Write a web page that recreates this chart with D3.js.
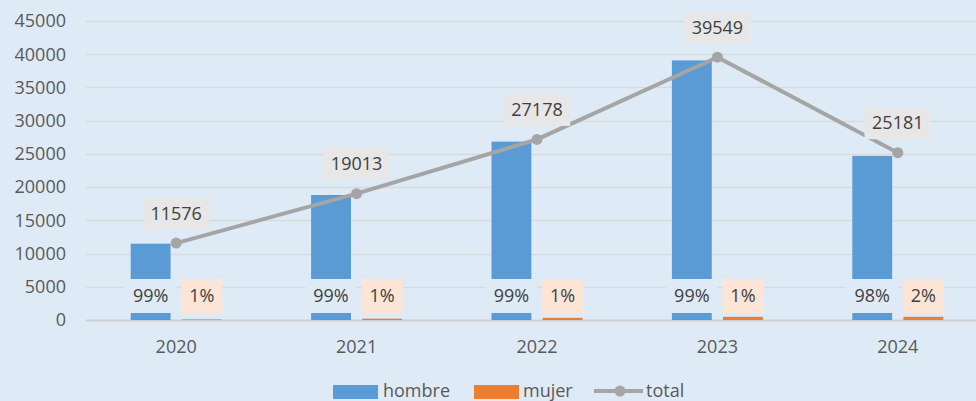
<!DOCTYPE html>
<html>
<head>
    <title>hombre / mujer / total</title>
    <script src="https://d3js.org/d3.v7.min.js"></script>
    <style>
        body { margin: 0; }
        svg { display: block; }
        text { font-family: "Open Sans", sans-serif; fill: #595959; }
        text.lbl { fill: #404040; }
    </style>
</head>
<body>
<svg width="976" height="401"></svg>
<script>
    const years = ["2020", "2021", "2022", "2023", "2024"];
    const hombre = [11486, 18813, 26848, 39069, 24701];
    const mujer = [90, 200, 330, 480, 480];
    const total = [11576, 19013, 27178, 39549, 25181];
    const yTicks = [0, 5000, 10000, 15000, 20000, 25000, 30000, 35000, 40000, 45000];

    const width = 976, height = 401;
    const fontSize = 18;

    const svg = d3.select("svg");

    svg.append("rect")
        .attr("width", width)
        .attr("height", height)
        .attr("fill", "#deebf7");

    const y = d3.scaleLinear().domain([0, 45000]).range([320, 21]);
    const x0 = d3.scaleBand().domain(years).range([86, 988]).padding(0);
    const bw = x0.bandwidth();
    const x1 = d3.scaleBand().domain(["hombre", "mujer"])
        .range([bw / 2 - 45.5, bw / 2 + 45.5])
        .paddingInner(0.22);

    // grid lines
    svg.append("g").selectAll("line")
        .data(yTicks)
        .enter().append("line")
        .attr("x1", 86)
        .attr("x2", width)
        .attr("y1", d => Math.round(y(d)) + 0.5)
        .attr("y2", d => Math.round(y(d)) + 0.5)
        .attr("stroke", d => d === 0 ? "#d0d0d0" : "#d9d9d9")
        .attr("stroke-width", d => d === 0 ? 2 : 1.3);

    // y axis labels
    svg.append("g").selectAll("text")
        .data(yTicks)
        .enter().append("text")
        .attr("x", 66)
        .attr("y", d => y(d))
        .attr("dy", "0.35em")
        .attr("text-anchor", "end")
        .style("font-size", fontSize + "px")
        .text(d => d);

    // x axis labels
    svg.append("g").selectAll("text")
        .data(years)
        .enter().append("text")
        .attr("x", d => x0(d) + bw / 2)
        .attr("y", 352.5)
        .attr("text-anchor", "middle")
        .style("font-size", fontSize + "px")
        .text(d => d);

    const rows = years.map((yr, i) => ({year: yr, hombre: hombre[i], mujer: mujer[i], total: total[i]}));
    const colors = {hombre: "#5b9bd5", mujer: "#ed7d31"};

    // bars
    const groups = svg.append("g").selectAll("g")
        .data(rows)
        .enter().append("g")
        .attr("transform", d => "translate(" + x0(d.year) + ",0)");

    groups.selectAll("rect")
        .data(d => ["hombre", "mujer"].map(k => ({key: k, value: d[k], total: d.total})))
        .enter().append("rect")
        .attr("x", d => x1(d.key))
        .attr("width", x1.bandwidth())
        .attr("y", d => y(d.value))
        .attr("height", d => y(0) - y(d.value))
        .attr("fill", d => colors[d.key]);

    // percentage labels with boxes
    const labelFill = {hombre: "#deebf7", mujer: "#fbe5d6"};
    groups.selectAll("g.pct")
        .data(d => ["hombre", "mujer"].map(k => ({key: k, value: d[k], total: d.total})))
        .enter().append("g")
        .attr("class", "pct")
        .each(function(d) {
            const g = d3.select(this);
            const cx = x1(d.key) + x1.bandwidth() / 2;
            const cy = y(0) - 24;
            const rect = g.append("rect");
            const t = g.append("text")
                .attr("class", "lbl")
                .attr("x", cx)
                .attr("y", cy)
                .attr("dy", "0.35em")
                .attr("text-anchor", "middle")
                .style("font-size", fontSize + "px")
                .text(Math.round(d.value / d.total * 100) + "%");
            const w = t.node().getComputedTextLength() + 16;
            rect.attr("x", cx - w / 2).attr("y", cy - 17)
                .attr("width", w).attr("height", 34)
                .attr("fill", labelFill[d.key]);
        });

    // total line
    const cxTotal = d => x0(d.year) + bw / 2;
    const line = d3.line().x(cxTotal).y(d => y(d.total));

    svg.append("path")
        .datum(rows)
        .attr("d", line)
        .attr("fill", "none")
        .attr("stroke", "#a5a5a5")
        .attr("stroke-width", 4)
        .attr("stroke-linejoin", "round");

    svg.append("g").selectAll("circle")
        .data(rows)
        .enter().append("circle")
        .attr("cx", cxTotal)
        .attr("cy", d => y(d.total))
        .attr("r", 5.5)
        .attr("fill", "#a5a5a5");

    // total labels
    svg.append("g").selectAll("g")
        .data(rows)
        .enter().append("g")
        .each(function(d) {
            const g = d3.select(this);
            const cx = cxTotal(d);
            const cy = y(d.total) - 29.5;
            const rect = g.append("rect");
            const t = g.append("text")
                .attr("class", "lbl")
                .attr("x", cx)
                .attr("y", cy)
                .attr("dy", "0.35em")
                .attr("text-anchor", "middle")
                .style("font-size", fontSize + "px")
                .text(d.total);
            const w = t.node().getComputedTextLength() + 15;
            rect.attr("x", cx - w / 2).attr("y", cy - 16)
                .attr("width", w).attr("height", 32)
                .attr("fill", "#e7e7e7");
        });

    // legend
    const legend = svg.append("g");
    legend.append("rect").attr("x", 333).attr("y", 385).attr("width", 45).attr("height", 14).attr("fill", colors.hombre);
    legend.append("text").attr("x", 383).attr("y", 396.5).style("font-size", fontSize + "px").text("hombre");
    legend.append("rect").attr("x", 474).attr("y", 385).attr("width", 45).attr("height", 14).attr("fill", colors.mujer);
    legend.append("text").attr("x", 523).attr("y", 396.5).style("font-size", fontSize + "px").text("mujer");
    legend.append("line").attr("x1", 594).attr("x2", 643).attr("y1", 391).attr("y2", 391)
        .attr("stroke", "#a5a5a5").attr("stroke-width", 4);
    legend.append("circle").attr("cx", 620).attr("cy", 391).attr("r", 5.5).attr("fill", "#a5a5a5");
    legend.append("text").attr("x", 646).attr("y", 396.5).style("font-size", fontSize + "px").text("total");
</script>
</body>
</html>
